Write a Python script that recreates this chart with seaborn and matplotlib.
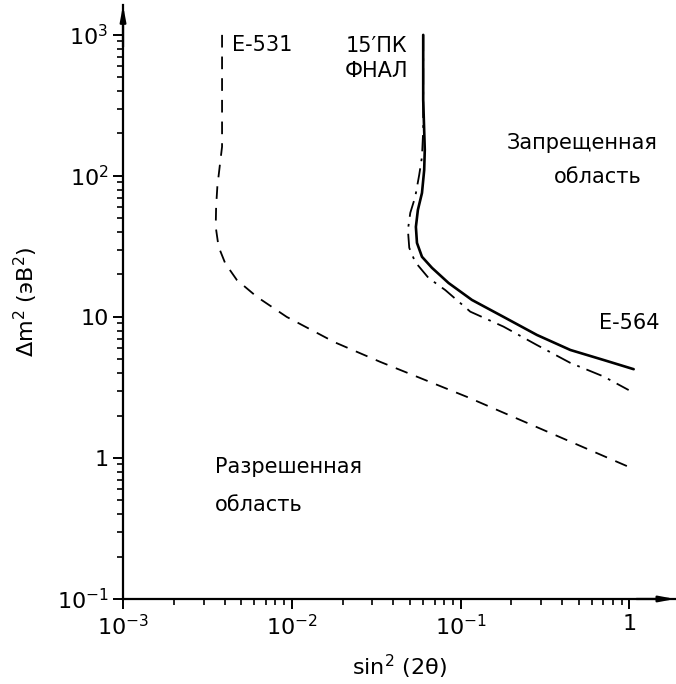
import numpy as np
import pandas as pd
import seaborn as sns
import matplotlib.pyplot as plt
from matplotlib.ticker import FixedLocator, FixedFormatter, LogLocator, NullFormatter

# curves (sin^2(2theta), dm^2 in eV^2)
e531_x = [0.00386, 0.00386, 0.00376, 0.00362, 0.00356, 0.00354, 0.00368, 0.00403, 0.00472,
          0.0062, 0.00933, 0.018, 0.0334, 0.109, 1.0]
e531_y = [1000, 161, 124, 84, 60.6, 43.6, 31.5, 24.0, 18.3, 13.9, 10.0, 6.6, 4.8, 2.71, 0.86]

fnal_x = [0.0600, 0.0600, 0.0613, 0.0608, 0.0590, 0.0558, 0.0543, 0.0551, 0.0590, 0.0676,
          0.0848, 0.1166, 0.1796, 0.283, 0.4465, 0.703, 1.059]
fnal_y = [1000, 346, 153, 110, 75.7, 57.4, 43.5, 33.5, 26.7, 22.3, 17.4, 13.2, 10.0, 7.45,
          5.83, 4.95, 4.26]

e564_x = [0.0600, 0.0600, 0.0590, 0.0568, 0.0538, 0.0503, 0.0487, 0.0496, 0.0538, 0.0645,
          0.0811, 0.114, 0.1796, 0.283, 0.4465, 0.703, 0.989]
e564_y = [1000, 212, 136.5, 101.6, 71, 54.7, 41.4, 30.9, 24.5, 18.9, 15.5, 10.9, 8.53, 6.32,
          4.72, 3.78, 3.03]

y_ticks = [0.1, 1, 10, 100, 1000]
y_labels = ['$\\mathdefault{10^{-1}}$', '1', '10', '$\\mathdefault{10^{2}}$', '$\\mathdefault{10^{3}}$']
x_ticks = [0.001, 0.01, 0.1, 1]
x_labels = ['$\\mathdefault{10^{-3}}$', '$\\mathdefault{10^{-2}}$', '$\\mathdefault{10^{-1}}$', '1']

sns.set_style('ticks')
plt.rcParams['font.family'] = ['DejaVu Sans']
plt.rcParams['mathtext.fontset'] = 'dejavusans'
plt.rcParams['text.color'] = 'black'
plt.rcParams['axes.labelcolor'] = 'black'

df531 = pd.DataFrame({'x': e531_x, 'y': e531_y})
dffnal = pd.DataFrame({'x': fnal_x, 'y': fnal_y})
df564 = pd.DataFrame({'x': e564_x, 'y': e564_y})

fig = plt.figure(figsize=(6.76, 6.84), dpi=100)
ax = fig.add_axes([0.182, 0.1243, 0.8166, 0.868])

sns.lineplot(data=df531, x='x', y='y', sort=False, estimator=None, ax=ax,
             color='black', lw=1.3, linestyle=(0, (7, 5)))
sns.lineplot(data=dffnal, x='x', y='y', sort=False, estimator=None, ax=ax,
             color='black', lw=1.9)
sns.lineplot(data=df564, x='x', y='y', sort=False, estimator=None, ax=ax,
             color='black', lw=1.3, linestyle=(0, (9, 4, 1.5, 4)))

ax.set_xscale('log')
ax.set_yscale('log')
ax.set_xlim(1e-3, 10 ** 0.27)
ax.set_ylim(0.1, 10 ** 3.21)

ax.xaxis.set_major_locator(FixedLocator(x_ticks))
ax.xaxis.set_major_formatter(FixedFormatter(x_labels))
ax.yaxis.set_major_locator(FixedLocator(y_ticks))
ax.yaxis.set_major_formatter(FixedFormatter(y_labels))
ax.xaxis.set_minor_locator(LogLocator(base=10, subs=np.arange(2, 10)))
ax.yaxis.set_minor_locator(LogLocator(base=10, subs=np.arange(2, 10)))
ax.xaxis.set_minor_formatter(NullFormatter())
ax.yaxis.set_minor_formatter(NullFormatter())
ax.tick_params(which='major', length=7, width=1.4, labelsize=16, color='black', labelcolor='black')
ax.tick_params(which='minor', length=4, width=1.2, color='black')

for side in ['top', 'right']:
    ax.spines[side].set_visible(False)
for side in ['left', 'bottom']:
    ax.spines[side].set_linewidth(1.6)
    ax.spines[side].set_color('black')

arrow = dict(arrowstyle='-|>,head_length=0.9,head_width=0.17', color='black', lw=1.6,
             shrinkA=0, shrinkB=0)
ax.annotate('', xy=(1, 0), xytext=(0.93, 0), xycoords='axes fraction',
            arrowprops=arrow, annotation_clip=False)
ax.annotate('', xy=(0, 1), xytext=(0, 0.93), xycoords='axes fraction',
            arrowprops=arrow, annotation_clip=False)

ax.set_xlabel('sin$^{2}$ (2θ)', fontsize=16, labelpad=10)
ax.set_ylabel('Δm$^{2}$ (эВ$^{2}$)', fontsize=16, labelpad=12)

ax.text(0.0044, 850, 'E-531', fontsize=15, ha='left', va='center')
ax.text(0.0317, 835, '15′ПК', fontsize=15, ha='center', va='center')
ax.text(0.0317, 556, 'ФНАЛ', fontsize=15, ha='center', va='center')
ax.text(0.526, 171, 'Запрещенная', fontsize=15, ha='center', va='center')
ax.text(0.645, 98, 'область', fontsize=15, ha='center', va='center')
ax.text(1.0, 9.0, 'E-564', fontsize=15, ha='center', va='center')
ax.text(0.00351, 0.863, 'Разрешенная', fontsize=15, ha='left', va='center')
ax.text(0.00351, 0.464, 'область', fontsize=15, ha='left', va='center')

fig.savefig('out.png', dpi=100, facecolor='white')
